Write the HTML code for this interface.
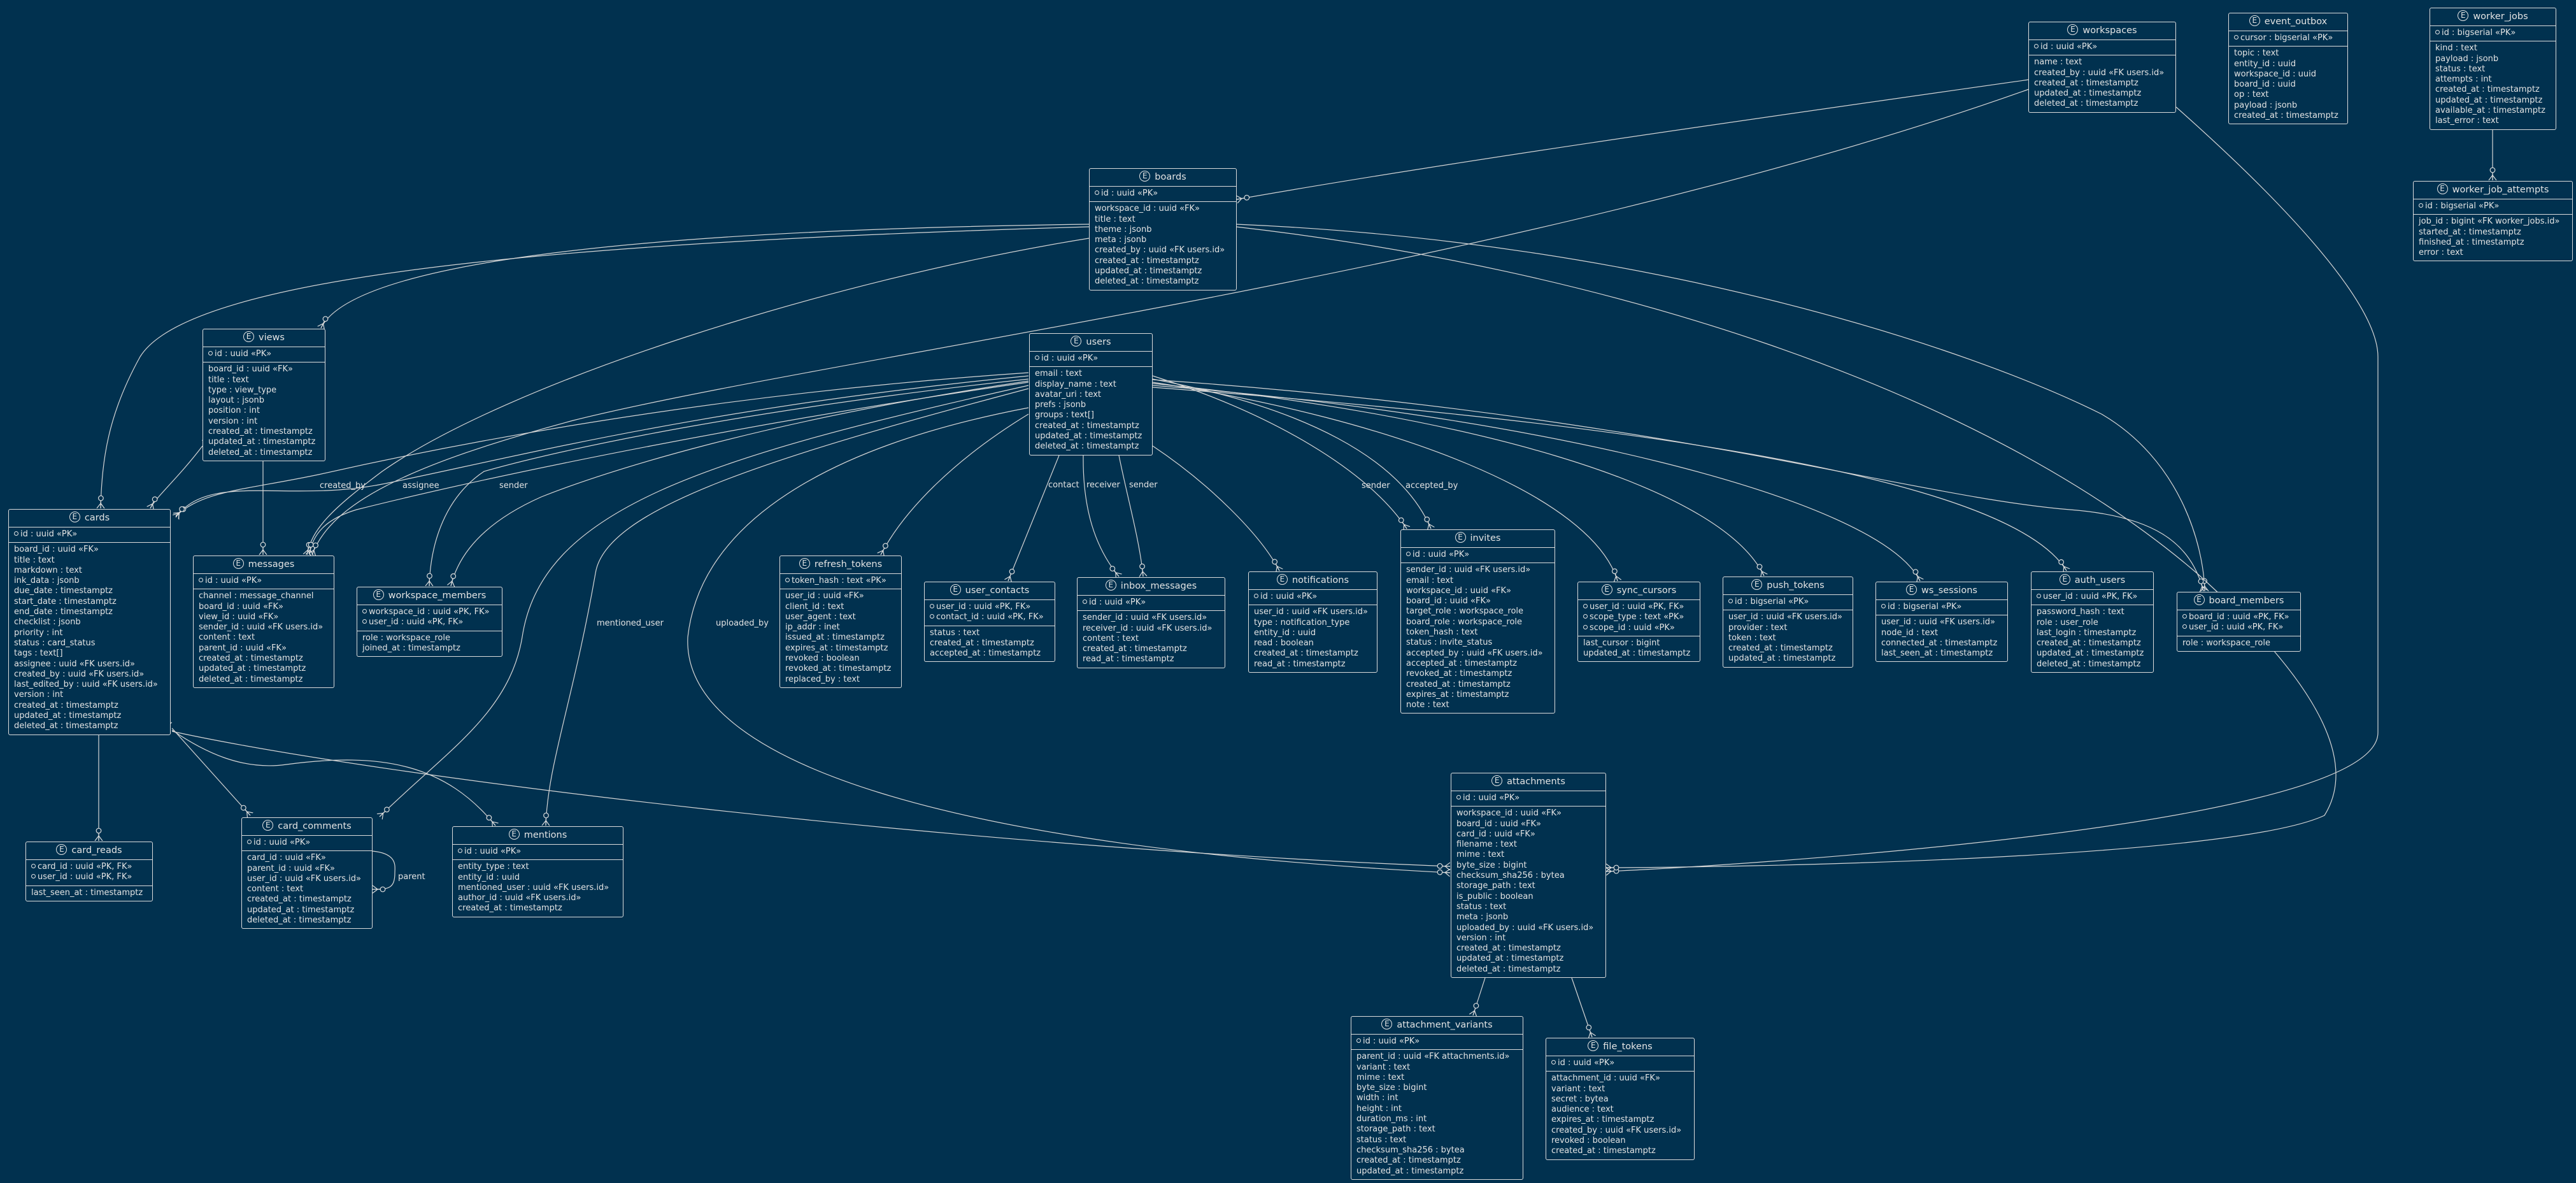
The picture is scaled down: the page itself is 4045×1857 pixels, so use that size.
<!DOCTYPE html>
<html><head><meta charset="utf-8"><style>
html,body{margin:0;padding:0;background:#01314f;}
body{width:4045px;height:1857px;position:relative;overflow:hidden;font-family:"DejaVu Sans","Liberation Sans",sans-serif;color:#e3e3e3;}
.b{position:absolute;border:1.5px solid #dcdcdc;border-radius:3px;background:#01314f;font-size:13px;white-space:nowrap;box-sizing:border-box;}
.h{height:27px;line-height:27px;text-align:center;font-size:14.5px;border-bottom:1.5px solid #dcdcdc;}
.i{display:inline-block;width:17px;height:17px;border:1.5px solid #e3e3e3;border-radius:50%;font-size:12px;text-align:center;vertical-align:middle;margin-right:7px;position:relative;top:-2px;box-sizing:border-box;line-height:14px;}
.s{padding:3px 8px 4px 8px;line-height:16.3px;}
.p{border-bottom:1.5px solid #dcdcdc;}
.c{display:inline-block;width:5px;height:5px;border:1px solid #e3e3e3;border-radius:50%;margin-right:3px;vertical-align:middle;position:relative;top:-1px;}
svg{position:absolute;left:0;top:0;}
.l{font-size:13px;fill:#e3e3e3;font-family:"DejaVu Sans","Liberation Sans",sans-serif;}
</style></head><body>
<svg width="4045" height="1857" viewBox="0 0 4045 1857">
<defs>
<marker id="m" viewBox="0 0 26 14" refX="26" refY="7" markerWidth="26" markerHeight="14" markerUnits="userSpaceOnUse" orient="auto">
<path d="M18,7 L26,1 M18,7 L26,13 M18,7 L26,7 M14,7 L18,7" stroke="#dcdcdc" stroke-width="1.2" fill="none"/>
<circle cx="10" cy="7" r="3.8" stroke="#dcdcdc" stroke-width="1.2" fill="#01314f"/>
</marker>
<marker id="o" viewBox="0 0 20 14" refX="0" refY="7" markerWidth="20" markerHeight="14" markerUnits="userSpaceOnUse" orient="auto-start-reverse">
<path d="M7,1 L7,13 M11,1 L11,13" stroke="#dcdcdc" stroke-width="1.2" fill="none"/>
</marker>
</defs>
<g fill="none" stroke="#d6d6d6" stroke-width="1.2" marker-start="url(#o)" marker-end="url(#m)">
<path d="M3186,125 C2800,180 2300,250 1942,313"/>
<path d="M3186,140 C2400,420 1300,560 900,660 C640,730 520,790 490,871"/>
<path d="M3417,168 C3600,330 3734,480 3734,560 L3734,1150 C3734,1300 2700,1360 2522,1368"/>
<path d="M1710,352 C1100,360 560,400 504,515"/>
<path d="M1710,356 C900,380 300,430 220,560 C170,650 160,720 158,798"/>
<path d="M1710,374 C1300,440 800,600 600,740 C520,800 490,830 482,871"/>
<path d="M1941,352 C2600,380 3100,550 3300,650 C3420,720 3460,850 3462,928"/>
<path d="M1941,356 C2500,420 3100,600 3450,900 C3650,1080 3700,1200 3650,1280 C3500,1350 2700,1362 2522,1362"/>
<path d="M413,723 L413,871"/>
<path d="M318,700 C280,750 245,780 236,798"/>
<path d="M1615,585 C1100,620 700,700 500,745 C380,770 320,770 276,810"/>
<path d="M1615,590 C1100,640 800,720 600,760 C450,790 330,740 276,812"/>
<path d="M1615,600 C1200,660 800,740 560,800 C510,815 490,840 486,871"/>
<path d="M1615,595 C1200,640 900,700 760,740 C700,780 676,850 674,920"/>
<path d="M1615,598 C1200,660 950,740 850,780 C760,820 720,870 708,920"/>
<path d="M1615,605 C1100,720 850,800 820,1000 C800,1120 700,1180 596,1282"/>
<path d="M1615,610 C1200,720 950,800 935,900 C900,1100 860,1200 857,1296"/>
<path d="M1615,640 C1300,700 1100,820 1080,1000 C1070,1200 1500,1330 2277,1370"/>
<path d="M1615,650 C1500,720 1420,800 1383,871"/>
<path d="M1663,715 L1583,912"/>
<path d="M1701,715 C1700,800 1720,860 1757,905"/>
<path d="M1757,715 C1770,780 1790,850 1795,905"/>
<path d="M1810,700 C1900,760 1980,840 2009,896"/>
<path d="M1810,590 C2000,650 2150,740 2209,830"/>
<path d="M1810,595 C2050,640 2200,720 2247,830"/>
<path d="M1810,600 C2200,660 2500,780 2540,912"/>
<path d="M1810,602 C2300,650 2700,760 2770,904"/>
<path d="M1810,605 C2400,650 2950,780 3015,912"/>
<path d="M1810,608 C2500,660 3150,740 3245,896"/>
<path d="M1810,596 C2600,650 3000,780 3250,800 C3380,810 3440,850 3460,928"/>
<path d="M155,1153 L155,1320"/>
<path d="M270,1143 L393,1280"/>
<path d="M270,1146 C320,1180 380,1210 450,1200 C600,1180 700,1200 778,1296"/>
<path d="M270,1148 C600,1220 1500,1330 2277,1360"/>
<path d="M585,1336 C625,1340 620,1360 620,1370 C620,1395 610,1396 585,1396"/>
<path d="M2332,1535 L2313,1594"/>
<path d="M2468,1535 L2500,1628"/>
<path d="M3914,195 L3914,283"/>
</g>
<g class="l">
<text x="502" y="766">created_by</text>
<text x="632" y="766">assignee</text>
<text x="784" y="766">sender</text>
<text x="1646" y="765">contact</text>
<text x="1706" y="765">receiver</text>
<text x="1773" y="765">sender</text>
<text x="2138" y="766">sender</text>
<text x="2207" y="766">accepted_by</text>
<text x="937" y="982">mentioned_user</text>
<text x="1124" y="982">uploaded_by</text>
<text x="625" y="1380">parent</text>
</g>
</svg>

<div class="b" style="left:3185px;top:34px;width:232px"><div class="h"><span class="i">E</span>workspaces</div><div class="s p"><span class="c"></span>id : uuid «PK»</div><div class="s">name : text<br>created_by : uuid «FK users.id»<br>created_at : timestamptz<br>updated_at : timestamptz<br>deleted_at : timestamptz</div></div>

<div class="b" style="left:3499px;top:20px;width:188px"><div class="h"><span class="i">E</span>event_outbox</div><div class="s p"><span class="c"></span>cursor : bigserial «PK»</div><div class="s">topic : text<br>entity_id : uuid<br>workspace_id : uuid<br>board_id : uuid<br>op : text<br>payload : jsonb<br>created_at : timestamptz</div></div>

<div class="b" style="left:3815px;top:12px;width:199px"><div class="h"><span class="i">E</span>worker_jobs</div><div class="s p"><span class="c"></span>id : bigserial «PK»</div><div class="s">kind : text<br>payload : jsonb<br>status : text<br>attempts : int<br>created_at : timestamptz<br>updated_at : timestamptz<br>available_at : timestamptz<br>last_error : text</div></div>

<div class="b" style="left:3789px;top:284px;width:251px"><div class="h"><span class="i">E</span>worker_job_attempts</div><div class="s p"><span class="c"></span>id : bigserial «PK»</div><div class="s">job_id : bigint «FK worker_jobs.id»<br>started_at : timestamptz<br>finished_at : timestamptz<br>error : text</div></div>

<div class="b" style="left:1710px;top:264px;width:232px"><div class="h"><span class="i">E</span>boards</div><div class="s p"><span class="c"></span>id : uuid «PK»</div><div class="s">workspace_id : uuid «FK»<br>title : text<br>theme : jsonb<br>meta : jsonb<br>created_by : uuid «FK users.id»<br>created_at : timestamptz<br>updated_at : timestamptz<br>deleted_at : timestamptz</div></div>

<div class="b" style="left:1616px;top:523px;width:194px"><div class="h"><span class="i">E</span>users</div><div class="s p"><span class="c"></span>id : uuid «PK»</div><div class="s">email : text<br>display_name : text<br>avatar_uri : text<br>prefs : jsonb<br>groups : text[]<br>created_at : timestamptz<br>updated_at : timestamptz<br>deleted_at : timestamptz</div></div>

<div class="b" style="left:318px;top:516px;width:193px"><div class="h"><span class="i">E</span>views</div><div class="s p"><span class="c"></span>id : uuid «PK»</div><div class="s">board_id : uuid «FK»<br>title : text<br>type : view_type<br>layout : jsonb<br>position : int<br>version : int<br>created_at : timestamptz<br>updated_at : timestamptz<br>deleted_at : timestamptz</div></div>

<div class="b" style="left:13px;top:799px;width:255px"><div class="h"><span class="i">E</span>cards</div><div class="s p"><span class="c"></span>id : uuid «PK»</div><div class="s">board_id : uuid «FK»<br>title : text<br>markdown : text<br>ink_data : jsonb<br>due_date : timestamptz<br>start_date : timestamptz<br>end_date : timestamptz<br>checklist : jsonb<br>priority : int<br>status : card_status<br>tags : text[]<br>assignee : uuid «FK users.id»<br>created_by : uuid «FK users.id»<br>last_edited_by : uuid «FK users.id»<br>version : int<br>created_at : timestamptz<br>updated_at : timestamptz<br>deleted_at : timestamptz</div></div>

<div class="b" style="left:303px;top:872px;width:222px"><div class="h"><span class="i">E</span>messages</div><div class="s p"><span class="c"></span>id : uuid «PK»</div><div class="s">channel : message_channel<br>board_id : uuid «FK»<br>view_id : uuid «FK»<br>sender_id : uuid «FK users.id»<br>content : text<br>parent_id : uuid «FK»<br>created_at : timestamptz<br>updated_at : timestamptz<br>deleted_at : timestamptz</div></div>

<div class="b" style="left:560px;top:921px;width:229px"><div class="h"><span class="i">E</span>workspace_members</div><div class="s p"><span class="c"></span>workspace_id : uuid «PK, FK»<br><span class="c"></span>user_id : uuid «PK, FK»</div><div class="s">role : workspace_role<br>joined_at : timestamptz</div></div>

<div class="b" style="left:1224px;top:872px;width:192px"><div class="h"><span class="i">E</span>refresh_tokens</div><div class="s p"><span class="c"></span>token_hash : text «PK»</div><div class="s">user_id : uuid «FK»<br>client_id : text<br>user_agent : text<br>ip_addr : inet<br>issued_at : timestamptz<br>expires_at : timestamptz<br>revoked : boolean<br>revoked_at : timestamptz<br>replaced_by : text</div></div>

<div class="b" style="left:1451px;top:913px;width:206px"><div class="h"><span class="i">E</span>user_contacts</div><div class="s p"><span class="c"></span>user_id : uuid «PK, FK»<br><span class="c"></span>contact_id : uuid «PK, FK»</div><div class="s">status : text<br>created_at : timestamptz<br>accepted_at : timestamptz</div></div>

<div class="b" style="left:1691px;top:906px;width:233px"><div class="h"><span class="i">E</span>inbox_messages</div><div class="s p"><span class="c"></span>id : uuid «PK»</div><div class="s">sender_id : uuid «FK users.id»<br>receiver_id : uuid «FK users.id»<br>content : text<br>created_at : timestamptz<br>read_at : timestamptz</div></div>

<div class="b" style="left:1960px;top:897px;width:203px"><div class="h"><span class="i">E</span>notifications</div><div class="s p"><span class="c"></span>id : uuid «PK»</div><div class="s">user_id : uuid «FK users.id»<br>type : notification_type<br>entity_id : uuid<br>read : boolean<br>created_at : timestamptz<br>read_at : timestamptz</div></div>

<div class="b" style="left:2199px;top:831px;width:243px"><div class="h"><span class="i">E</span>invites</div><div class="s p"><span class="c"></span>id : uuid «PK»</div><div class="s">sender_id : uuid «FK users.id»<br>email : text<br>workspace_id : uuid «FK»<br>board_id : uuid «FK»<br>target_role : workspace_role<br>board_role : workspace_role<br>token_hash : text<br>status : invite_status<br>accepted_by : uuid «FK users.id»<br>accepted_at : timestamptz<br>revoked_at : timestamptz<br>created_at : timestamptz<br>expires_at : timestamptz<br>note : text</div></div>

<div class="b" style="left:2477px;top:913px;width:193px"><div class="h"><span class="i">E</span>sync_cursors</div><div class="s p"><span class="c"></span>user_id : uuid «PK, FK»<br><span class="c"></span>scope_type : text «PK»<br><span class="c"></span>scope_id : uuid «PK»</div><div class="s">last_cursor : bigint<br>updated_at : timestamptz</div></div>

<div class="b" style="left:2705px;top:905px;width:205px"><div class="h"><span class="i">E</span>push_tokens</div><div class="s p"><span class="c"></span>id : bigserial «PK»</div><div class="s">user_id : uuid «FK users.id»<br>provider : text<br>token : text<br>created_at : timestamptz<br>updated_at : timestamptz</div></div>

<div class="b" style="left:2945px;top:913px;width:208px"><div class="h"><span class="i">E</span>ws_sessions</div><div class="s p"><span class="c"></span>id : bigserial «PK»</div><div class="s">user_id : uuid «FK users.id»<br>node_id : text<br>connected_at : timestamptz<br>last_seen_at : timestamptz</div></div>

<div class="b" style="left:3189px;top:897px;width:193px"><div class="h"><span class="i">E</span>auth_users</div><div class="s p"><span class="c"></span>user_id : uuid «PK, FK»</div><div class="s">password_hash : text<br>role : user_role<br>last_login : timestamptz<br>created_at : timestamptz<br>updated_at : timestamptz<br>deleted_at : timestamptz</div></div>

<div class="b" style="left:3418px;top:929px;width:195px"><div class="h"><span class="i">E</span>board_members</div><div class="s p"><span class="c"></span>board_id : uuid «PK, FK»<br><span class="c"></span>user_id : uuid «PK, FK»</div><div class="s">role : workspace_role</div></div>

<div class="b" style="left:40px;top:1321px;width:200px"><div class="h"><span class="i">E</span>card_reads</div><div class="s p"><span class="c"></span>card_id : uuid «PK, FK»<br><span class="c"></span>user_id : uuid «PK, FK»</div><div class="s">last_seen_at : timestamptz</div></div>

<div class="b" style="left:379px;top:1283px;width:206px"><div class="h"><span class="i">E</span>card_comments</div><div class="s p"><span class="c"></span>id : uuid «PK»</div><div class="s">card_id : uuid «FK»<br>parent_id : uuid «FK»<br>user_id : uuid «FK users.id»<br>content : text<br>created_at : timestamptz<br>updated_at : timestamptz<br>deleted_at : timestamptz</div></div>

<div class="b" style="left:710px;top:1297px;width:269px"><div class="h"><span class="i">E</span>mentions</div><div class="s p"><span class="c"></span>id : uuid «PK»</div><div class="s">entity_type : text<br>entity_id : uuid<br>mentioned_user : uuid «FK users.id»<br>author_id : uuid «FK users.id»<br>created_at : timestamptz</div></div>

<div class="b" style="left:2278px;top:1213px;width:244px"><div class="h"><span class="i">E</span>attachments</div><div class="s p"><span class="c"></span>id : uuid «PK»</div><div class="s">workspace_id : uuid «FK»<br>board_id : uuid «FK»<br>card_id : uuid «FK»<br>filename : text<br>mime : text<br>byte_size : bigint<br>checksum_sha256 : bytea<br>storage_path : text<br>is_public : boolean<br>status : text<br>meta : jsonb<br>uploaded_by : uuid «FK users.id»<br>version : int<br>created_at : timestamptz<br>updated_at : timestamptz<br>deleted_at : timestamptz</div></div>

<div class="b" style="left:2121px;top:1595px;width:271px"><div class="h"><span class="i">E</span>attachment_variants</div><div class="s p"><span class="c"></span>id : uuid «PK»</div><div class="s">parent_id : uuid «FK attachments.id»<br>variant : text<br>mime : text<br>byte_size : bigint<br>width : int<br>height : int<br>duration_ms : int<br>storage_path : text<br>status : text<br>checksum_sha256 : bytea<br>created_at : timestamptz<br>updated_at : timestamptz</div></div>

<div class="b" style="left:2427px;top:1629px;width:234px"><div class="h"><span class="i">E</span>file_tokens</div><div class="s p"><span class="c"></span>id : uuid «PK»</div><div class="s">attachment_id : uuid «FK»<br>variant : text<br>secret : bytea<br>audience : text<br>expires_at : timestamptz<br>created_by : uuid «FK users.id»<br>revoked : boolean<br>created_at : timestamptz</div></div>

</body></html>
